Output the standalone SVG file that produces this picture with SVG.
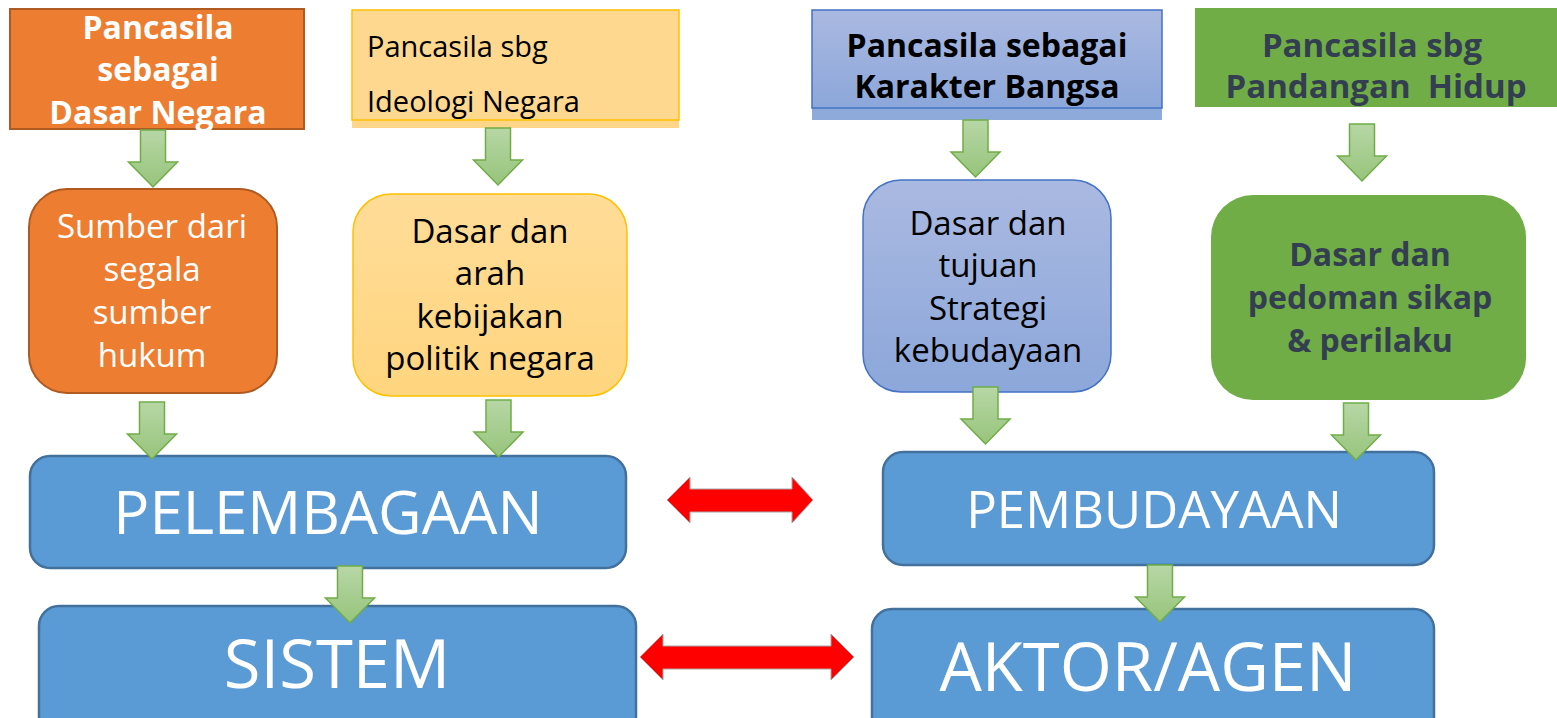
<svg xmlns="http://www.w3.org/2000/svg" width="1557" height="718" viewBox="0 0 1557 718">
<defs>
<linearGradient id="gArrow" x1="0" y1="0" x2="0" y2="1"><stop offset="0" stop-color="#b7d7a6"/><stop offset="1" stop-color="#97c47b"/></linearGradient>
<linearGradient id="gBlue" x1="0" y1="0" x2="0" y2="1"><stop offset="0" stop-color="#aab9e1"/><stop offset="1" stop-color="#8ca7da"/></linearGradient>
<linearGradient id="gYellow" x1="0" y1="0" x2="0" y2="1"><stop offset="0" stop-color="#ffdc98"/><stop offset="1" stop-color="#ffd57e"/></linearGradient>
<path id="down" d="M-12.5,0 H12.5 V32 H24.5 L0,57 L-24.5,32 H-12.5 Z"/>
</defs>
<style>
.t{font-family:"Open Sans","Segoe UI","Liberation Sans",sans-serif;text-anchor:middle}
.b{font-weight:bold}
.w{fill:#ffffff}
.k{fill:#000000}
.d{fill:#333f50}
.big{fill:#5b9bd5;stroke:#41719c;stroke-width:2.5}
.ga{fill:url(#gArrow);stroke:#70ad47;stroke-width:1.5}
.ra{fill:#ff0000;stroke:#a6a6a6;stroke-width:1}
</style>
<rect width="1557" height="718" fill="#ffffff"/>

<g id="top-dasar-negara">
<rect x="10" y="9" width="294" height="120" fill="#ed7d31" stroke="#ae5a21" stroke-width="2"/>
<text class="t b w" font-size="32" x="158" y="39">Pancasila</text>
<text class="t b w" font-size="32" x="158" y="81">sebagai</text>
<text class="t b w" font-size="32" x="158" y="124">Dasar Negara</text>
</g>

<g id="top-ideologi">
<rect x="352" y="118" width="327" height="10" fill="#fdd68a"/>
<rect x="352" y="10" width="327" height="110" fill="#ffd890" stroke="#ffc000" stroke-width="1.5"/>
<text class="t k" font-size="29" x="367" y="57" style="text-anchor:start">Pancasila sbg</text>
<text class="t k" font-size="29" x="367" y="112" style="text-anchor:start">Ideologi Negara</text>
</g>

<g id="top-karakter">
<rect x="812" y="106" width="350" height="14" fill="#8eaadb"/>
<rect x="812" y="10" width="350" height="98" fill="url(#gBlue)" stroke="#4472c4" stroke-width="1.5"/>
<text class="t b k" font-size="32" x="987" y="57">Pancasila sebagai</text>
<text class="t b k" font-size="32" x="987" y="98">Karakter Bangsa</text>
</g>

<g id="top-pandangan">
<rect x="1195" y="8" width="362" height="99" fill="#70ad47"/>
<text class="t b d" font-size="33" x="1372" y="57">Pancasila sbg</text>
<text class="t b d" font-size="33" x="1376" y="98" style="white-space:pre">Pandangan  Hidup</text>
</g>

<g id="mid-sumber">
<rect x="29" y="189" width="248" height="204" rx="38" fill="#ed7d31" stroke="#ae5a21" stroke-width="2"/>
<text class="t w" font-size="33" x="152" y="238">Sumber dari</text>
<text class="t w" font-size="33" x="152" y="281">segala</text>
<text class="t w" font-size="33" x="152" y="324">sumber</text>
<text class="t w" font-size="33" x="152" y="367">hukum</text>
</g>

<g id="mid-kebijakan">
<rect x="353" y="194" width="274" height="202" rx="38" fill="url(#gYellow)" stroke="#ffc000" stroke-width="1.5"/>
<text class="t k" font-size="33" x="490" y="243">Dasar dan</text>
<text class="t k" font-size="33" x="490" y="285">arah</text>
<text class="t k" font-size="33" x="490" y="328">kebijakan</text>
<text class="t k" font-size="33" x="490" y="370">politik negara</text>
</g>

<g id="mid-strategi">
<rect x="863" y="180" width="248" height="212" rx="38" fill="url(#gBlue)" stroke="#4472c4" stroke-width="1.5"/>
<text class="t k" font-size="33" x="988" y="235">Dasar dan</text>
<text class="t k" font-size="33" x="988" y="277">tujuan</text>
<text class="t k" font-size="33" x="988" y="320">Strategi</text>
<text class="t k" font-size="33" x="988" y="362">kebudayaan</text>
</g>

<g id="mid-pedoman">
<rect x="1211" y="195" width="315" height="205" rx="42" fill="#70ad47"/>
<text class="t b d" font-size="32" x="1370" y="266">Dasar dan</text>
<text class="t b d" font-size="32" x="1370" y="309">pedoman sikap</text>
<text class="t b d" font-size="32" x="1370" y="352">&amp; perilaku</text>
</g>

<g id="pelembagaan">
<rect class="big" x="30" y="456" width="596" height="112" rx="20"/>
<text class="t w" font-size="60" x="328" y="534">PELEMBAGAAN</text>
</g>

<g id="pembudayaan">
<rect class="big" x="883" y="452" width="551" height="113" rx="20"/>
<text class="t w" font-size="51" x="1154" y="528">PEMBUDAYAAN</text>
</g>

<g id="sistem">
<rect class="big" x="39" y="606" width="597" height="130" rx="20"/>
<text class="t w" font-size="67" x="337" y="688">SISTEM</text>
</g>

<g id="aktor-agen">
<rect class="big" x="872" y="609" width="562" height="130" rx="20"/>
<text class="t w" font-size="67" x="1148" y="691">AKTOR/AGEN</text>
</g>

<g id="connectors">
<use href="#down" class="ga" transform="translate(153,130)"/>
<use href="#down" class="ga" transform="translate(498,128)"/>
<use href="#down" class="ga" transform="translate(975.5,120)"/>
<use href="#down" class="ga" transform="translate(1362,124)"/>
<use href="#down" class="ga" transform="translate(152,402)"/>
<use href="#down" class="ga" transform="translate(498.5,400)"/>
<use href="#down" class="ga" transform="translate(985.5,387)"/>
<use href="#down" class="ga" transform="translate(1356,403)"/>
<use href="#down" class="ga" transform="translate(350,566)"/>
<use href="#down" class="ga" transform="translate(1160,565)"/>
<path class="ra" d="M667,500 L690,477 V489 H792 V477 L813,500 L792,523 V512 H690 V523 Z"/>
<path class="ra" d="M640,657 L663,634 V646 H831 V634 L854,657 L831,680 V669 H663 V680 Z"/>
</g>
</svg>
